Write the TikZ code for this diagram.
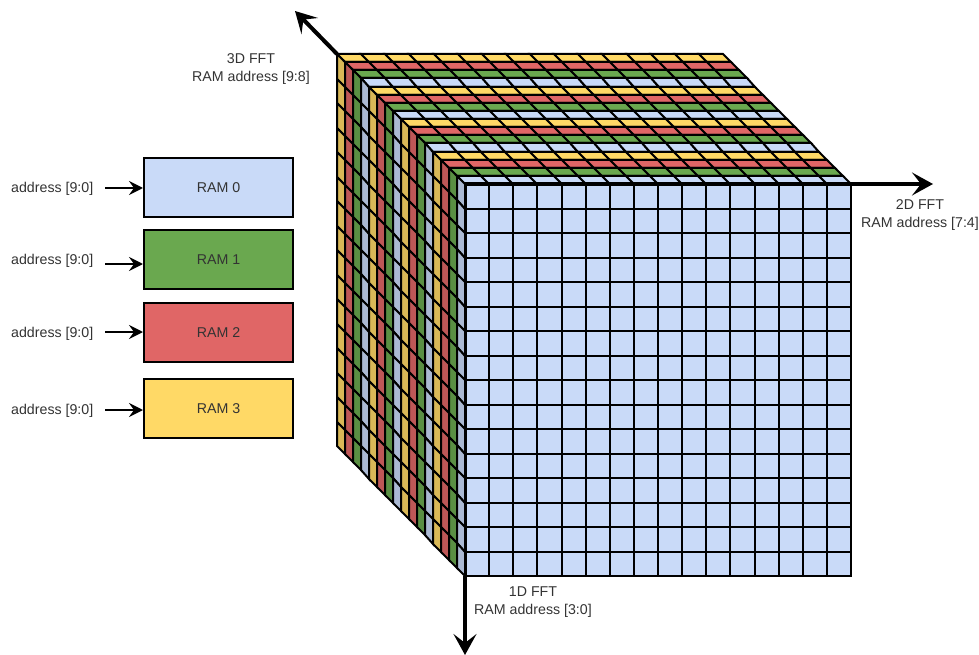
\documentclass[tikz,border=0pt]{standalone}
\usepackage{fontspec}
\setmainfont{Liberation Sans}
\usetikzlibrary{arrows.meta}
\definecolor{ramblue}{HTML}{C9DAF8}
\definecolor{ramgreen}{HTML}{6AA84F}
\definecolor{ramred}{HTML}{E06666}
\definecolor{ramyellow}{HTML}{FFD966}
\definecolor{labelink}{HTML}{333333}

\begin{document}
\begin{tikzpicture}[x=1pt,y=-1pt,
  rambox/.style={draw=black,line width=2pt,minimum width=149pt,minimum height=59pt,
    inner sep=0pt,text=labelink,font=\fontsize{14.2}{17}\selectfont},
  addr/.style={text=labelink,inner sep=0pt,font=\fontsize{14.2}{17}\selectfont},
  axislabel/.style={text=labelink,inner sep=0pt,align=center,
    font=\fontsize{14.2}{18}\selectfont},
  cell/.style={draw=black,line width=2pt,line join=miter},
  addrarr/.style={-{Stealth[length=14pt,width=14pt,inset=5pt]},line width=2pt},
  axisarr/.style={-{Stealth[length=21pt,width=23pt,inset=9pt]},line width=4pt}
]
  \useasboundingbox (0,0) rectangle (979,655);

  % top and left faces, back strip first
  \foreach \k/\col in {15/ramyellow,14/ramred,13/ramgreen,12/ramblue,
      11/ramyellow,10/ramred,9/ramgreen,8/ramblue,
      7/ramyellow,6/ramred,5/ramgreen,4/ramblue,
      3/ramyellow,2/ramred,1/ramgreen,0/ramblue}{
    \pgfmathsetmacro{\kk}{\k+1}
    \foreach \i in {0,...,15}{
      \pgfmathsetmacro{\ii}{\i+1}
      \draw[cell,fill=\col]
        ({round(465+24.125*\i-8*\k)},{round(184-8.125*\k)}) --
        ({round(465+24.125*\ii-8*\k)},{round(184-8.125*\k)}) --
        ({round(465+24.125*\ii-8*\kk)},{round(184-8.125*\kk)}) --
        ({round(465+24.125*\i-8*\kk)},{round(184-8.125*\kk)}) -- cycle;
      \draw[cell,fill=\col!85!black]
        ({465-8*\k},{round(184+24.5*\i-8.125*\k)}) --
        ({465-8*\k},{round(184+24.5*\ii-8.125*\k)}) --
        ({465-8*\kk},{round(184+24.5*\ii-8.125*\kk)}) --
        ({465-8*\kk},{round(184+24.5*\i-8.125*\kk)}) -- cycle;
    }
  }

  % front face
  \foreach \i in {0,...,15}{
    \foreach \j in {0,...,15}{
      \draw[cell,fill=ramblue] ({round(465+24.125*\i)},{round(184+24.5*\j)})
        rectangle ({round(465+24.125*(\i+1))},{round(184+24.5*(\j+1))});
    }
  }

  % axes
  \coordinate (corner3d) at (337,54);
  \coordinate (corner2d) at (851,184);
  \coordinate (corner1d) at (465,576);
  \coordinate (tip3d) at (295,11);
  \coordinate (tip2d) at (933,184);
  \coordinate (tip1d) at (465,655);
  \draw[line width=4pt] (465,184) -- (corner2d);
  \draw[line width=3pt] (465,184) -- (corner1d);
  \draw[axisarr] (corner3d) -- (tip3d);
  \draw[axisarr] (corner2d) -- (tip2d);
  \draw[axisarr] (corner1d) -- (tip1d);

  \node[axislabel] (label3d) at (251,69) {3D FFT\\RAM address [9:8]};
  \node[axislabel] (label2d) at (920,215.5) {2D FFT\\RAM address [7:4]};
  \node[axislabel] (label1d) at (533,602) {1D FFT\\RAM address [3:0]};

  % memories
  \node[rambox,fill=ramblue] (ram0) at (218.5,187.5) {RAM 0};
  \node[rambox,fill=ramgreen] (ram1) at (218.5,259.5) {RAM 1};
  \node[rambox,fill=ramred] (ram2) at (218.5,332.5) {RAM 2};
  \node[rambox,fill=ramyellow] (ram3) at (218.5,408.5) {RAM 3};

  \node[addr,anchor=west] (addr0) at (11,188.5) {address [9:0]};
  \node[addr,anchor=west] (addr1) at (11,260.5) {address [9:0]};
  \node[addr,anchor=west] (addr2) at (11,333.5) {address [9:0]};
  \node[addr,anchor=west] (addr3) at (11,410.5) {address [9:0]};

  \coordinate (start0) at (105,188);
  \coordinate (start1) at (105,264);
  \coordinate (start2) at (105,332);
  \coordinate (start3) at (105,410);
  \draw[addrarr] (start0) -- (ram0.west |- start0);
  \draw[addrarr] (start1) -- (ram1.west |- start1);
  \draw[addrarr] (start2) -- (ram2.west |- start2);
  \draw[addrarr] (start3) -- (ram3.west |- start3);
\end{tikzpicture}
\end{document}
